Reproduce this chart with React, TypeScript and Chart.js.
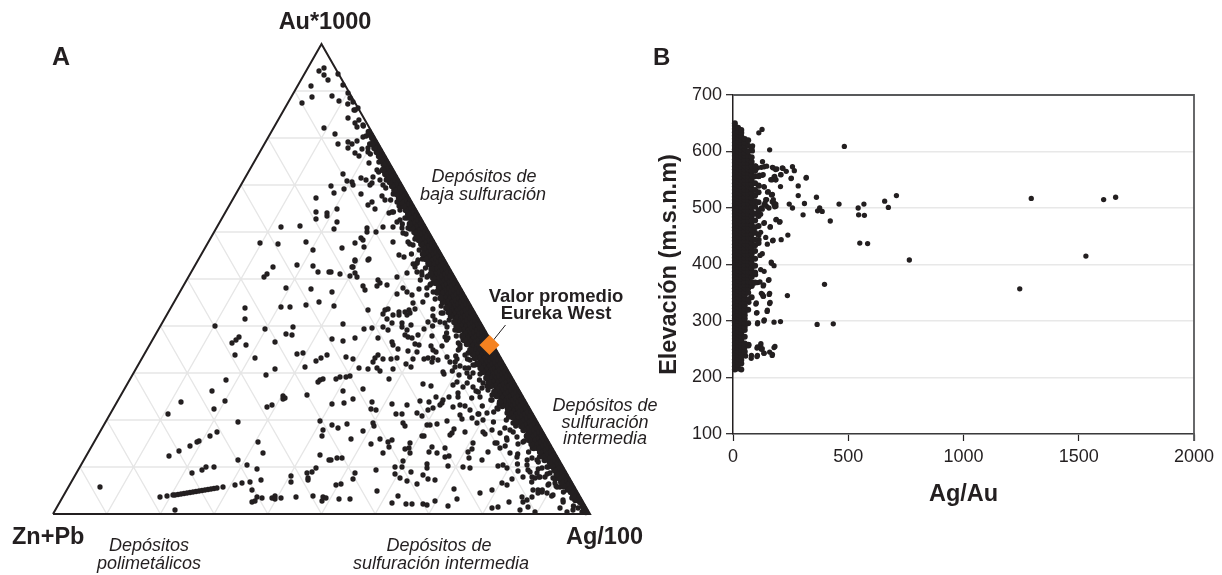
import React, { useEffect, useRef } from "react";
import { Chart, registerables } from "chart.js";

Chart.register(...registerables);

const INK = "#231f20";
const FONT = '"Liberation Sans", Arial, sans-serif';

// ---- Panel A: ternary plot. Plot units: base 537 wide, height 470 tall.
const gridSteps = [10, 20, 30, 40, 50, 60, 70, 80, 90];
const meanPoint = [436.5, 169];

const scatteredA: number[][] = [
[220,247],[214,240],[211,237],[244,249],[260,248],[265,242],[276,242],[233,226],[258,225],[266,212],[253,209],[228,207],[237,207],[192,206],[192,195],[162,188],[212,185],[240,187],[233,180],[239,179],[186,177],[183,174],[179,171],[193,169],[222,172],[182,159],[202,156],[244,160],[250,161],[274,159],[268,156],[263,153],[252,147],[222,145],[213,139],[173,134],[159,123],[270,135],[267,134],[265,132],[254,119],[230,118],[232,116],[230,115],[219,109],[214,107],[128,112],[115,100],[172,113],[161,105],[185,92],[267,93],[270,84],[269,78],[164,82],[157,78],[146,73],[144,72],[137,68],[126,63],[116,58],[205,72],[210,61],[267,59],[276,54],[185,54],[194,49],[204,45],[161,47],[153,47],[149,44],[139,41],[263,46],[259,42],[254,41],[255,36],[255,34],[238,38],[238,32],[208,34],[197,32],[189,31],[182,29],[170,27],[47,27],[199,24],[199,12],[202,13],[204,17],[209,16],[219,16],[222,18],[222,15],[228,16],[243,17],[260,18],[269,13],[270,17],[273,16],[122,4],[107,17],[114,18],
[120,19],[122,19],[125,19.5],[128,20],[131,20.5],[134,21],[137,21.5],[140,22],[143,22.5],[146,23],[149,23.5],[152,24],[155,24.5],[158,25],[161,25.5],[164,26],
[278,242],[287,240],[297,238],[302,241],[304,237],[299,247],[302,253],[315,254],[344,237],[354,241],[325,234],[327,231],[324,228],[334,229],[310,228],[312,224],[279,222],[281,208],[344,220],[350,226],[354,222],[359,219],[366,225],[377,229],[384,221],[380,231],[315,204],[332,204],[330,200],[335,205],[340,199],[346,199],[346,202],[352,202],[356,204],[360,211],[362,205],[354,199],[357,201],[334,195],[339,191],[349,191],[349,187],[358,189],[375,192],[382,194],[387,192],[290,190],[311,185],[319,186],[330,187],[335,184],[279,175],[290,173],[302,176],[325,176],[354,184],[352,179],[355,177],[359,176],[365,179],[371,185],[379,178],[339,172],[340,169],[362,170],[366,169],[345,165],[355,163],[364,162],[378,168],[380,164],[383,162],[293,157],[300,155],[325,159],[322,156],[320,152],[330,155],[338,155],[344,156],[360,155],[371,155],[375,156],[380,156],[385,154],[394,157],[404,155],[397,152],[306,146],[315,145],[324,146],[327,143],[340,145],[353,150],[358,147],[379,152],[402,147],[407,148],[412,146],[390,142],[391,140],[406,139],[420,141],[414,141],[297,138],[293,137],[287,137],[283,135],[336,135],[404,132],[400,129],[370,130],[378,128],[410,127],[420,127],[423,123],[310,125],[290,123],[405,121],[405,117],[396,117],[383,117],[390,114],[389,111],[376,112],[367,113],[427,117],[300,115],[279,110],[291,111],[319,112],[339,110],[354,109],[318,105],[323,104],[380,106],[375,104],[387,109],[400,107],[407,109],[412,108],[417,104],[343,100],[349,100],[364,101],[369,98],[394,93],[409,95],[407,99],[425,100],[419,96],[424,91],[430,94],[434,101],[279,89],[285,86],[294,90],[320,91],[321,88],[350,91],[352,88],[374,89],[377,89],[384,90],[310,83],[298,75],[327,75],[318,70],[401,85],[399,81],[397,79],[412,82],[369,78],[371,78],[430,82],[432,80],[442,71],[444,71],[339,74],[335,72],[336,67],[330,61],[352,65],[357,71],[356,66],[357,61],[379,67],[376,62],[384,61],[392,66],[392,57],[396,58],[420,71],[419,65],[415,62],[435,62],[416,56],[429,54],[278,54],[284,56],[289,56],[350,53],[349,47],[342,47],[374,50],[374,46],[395,48],[410,47],[417,46],[445,48],[450,49],[454,46],[465,43],[302,41],[300,35],[323,44],[342,40],[347,36],[358,42],[354,33],[364,30],[370,39],[375,35],[382,34],[283,29],[288,30],[324,23],[401,25],[427,21],[439,24],[449,31],[454,29],[459,35],[470,37],[479,37],[482,36],[286,15],[297,15],[345,18],[339,11],[353,10],[359,10],[370,10],[374,9],[382,13],[395,8],[404,15],[439,6],[445,7],[456,12],[467,4],[469,17],[475,7],[470,12],[479,17],[482,2],
[485,24],[489,22],[494,21],[500,19],[510,14],[507,6],[514,2],[520,4],[525,6],[529,2],[522,14],[495,29],[504,27],[500,36],[492,37],[487,37],[475,44],[489,46],[484,54],[479,56],[474,49],[464,57],[457,61],[447,66],[490,62],[500,47],[507,37],[514,24],[524,17],[502,31],[507,27],[494,47],[497,41],[484,41],[480,24],[485,21],[474,14],
[271,446],[266,443],[271,439],[275,434],[285,440],[290,429],[258,428],[259,417],[249,411],[279,418],[286,413],[295,421],[297,416],[300,412],[301,404],[305,406],[295,396],[302,391],[304,387],[310,389],[271,386],[282,380],[285,370],[295,372],[299,370],[295,366],[304,373],[310,377],[309,365],[315,366],[315,362],[302,361],[306,358],[316,351],[290,340],[294,333],[299,332],[300,329],[308,336],[313,334],[278,328],[291,325],[281,321],[308,320],[263,316],[317,329],[320,337],[324,344],[327,334],[330,329],[319,331],[319,312],[315,309],[322,305],[329,318],[332,314],[263,302],[274,301],[274,298],[284,305],[263,295],[284,292],[281,285],[228,287],[247,288],[207,271],[225,270],[253,272],[260,264],[289,266],[302,271],[308,276],[310,274],[311,267],[314,286],[314,282],[323,282],[330,287],[339,302],[336,301],[340,272],[346,259],[351,257],[302,254],[316,255],[300,247],
[340,287],[344,292],[347,294],[349,286],[350,281],[355,272],[360,269],[355,286],[364,281],[354,296],[344,312],[347,304],[364,251],[374,256],[365,254],[370,266],[377,252],[362,247],[364,242],[369,239],[374,237],[379,244],[375,251],[364,251],[382,239],
[407,166],[412,159],[417,154],[424,151],[429,144],[434,137],[430,131],[435,124],[439,114],[444,106],[450,111],[454,101],[460,91],[457,84],[464,77],[470,72],[477,77],[484,71],[454,74],[447,81],[494,57],[500,54],[395,176],[392,177],[404,184],[410,189],[394,187],[407,194],[390,201],[400,209],[394,211],[389,217],[404,201],[410,174],[407,169],[420,167],[414,171],[429,154],[420,149],[440,137]
];

// Dense band along the Ag-Au side: heights above the base, per inset from that side.
const bandInsets = [3, 6.5, 10.5, 14.5, 18.5, 22, 26];
const bandHeights: number[][] = [
[2,5,8,12,15,18,21,25,28,31,34,38,41,44,47,51,54,57,60,64,67,70,73,77,80,83,86,90,93,96,99,103,106,109,112,116,119,122,125,129,132,135,138,142,145,148,151,155,158,161,164,168,171,174,177,181,184,187,190,194,197,200,203,207,210,213,216,220,223,226,229,233,236,239,242,246,249,252,255,259,262,265,268,272,275,278,281,285,288,291,294,298,301,304,307,311,314,317,320,324,327,330,333,337,340,343,346,350,353,356,359,363,366,369,372,376,379,382],
[14,18,22,26,30,34,38,42,46,50,54,58,62,66,70,74,78,82,86,90,94,98,102,106,110,114,118,122,126,130,134,138,142,146,150,154,158,162,166,170,174,178,182,186,190,194,198,202,206,210,214,218,222,226,230,234,238,242,246,250,254,258,262,266,270,274,278,282,286,290,294,298,302,306,310,314,318,322,326,330,334,338,342,346,350,354,358,362,366,370],
[28,32,36,40,44,48,52,56,60,64,68,72,76,80,84,88,92,96,100,104,108,112,116,120,124,128,132,136,140,144,148,152,156,160,164,168,172,176,180,184,188,192,196,200,204,208,212,216,220,224,228,232,236,240,244,248,252,256,260,264,268,272,276,280,284,288,292,296,300,304,308,312,316,320,324,328,332,336,340,344],
[54,58,62,66,70,74,78,82,86,90,94,98,102,106,110,114,118,122,126,130,134,138,142,146,150,154,158,162,166,170,174,178,182,186,190,194,198,202,206,210,214,218,222,226,230,234,238,242,246,250,254,258,262,266,270,274,278,282,286,290],
[66,70,74,78,84,88,92,96,100,104,108,112,116,120,124,128,132,136,140,144,148,152,156,160,164,168,172,176,180,184,188,192,196,200,204,208,212,216,220,224,228,232,236,240,245,250,255,260],
[92,97,101,105,109,113,117,121,125,129,133,137,141,145,149,153,157,161,165,169,173,177,181,185,189,193,197,201,205,209,213,217,221,226,231,236,240],
[108,112,118,122,128,132,136,142,146,150,156,160,164,170,174,178,184,188,192,198,202,206,212,216,222]
];

// Loose points just inside the band: [height above the base, inset from the Ag-Au side].
const nearBand: number[][] = [
[8,12],[12,20],[16,9],[18,28],[22,14],[24,34],[28,18],[30,24],[32,40],[35,15],[37,30],[40,20],[42,36],[45,26],[47,15],[50,44],[52,22],[54,32],[57,18],[60,38],[62,26],[66,20],[68,46],[70,32],[73,24],[76,40],[78,19],[82,30],[84,50],[86,36],[88,24],[92,44],[94,30],[97,26],[100,54],[102,38],[105,32],[108,46],[110,28],[114,34],[116,52],[119,30],[122,42],[126,36],[128,30],[131,48],[134,34],[137,42],[140,30],[143,56],[146,38],[149,30],[152,48],[155,34],[158,44],[161,30],[164,38],[168,52],[171,34],[174,44],[178,32],[181,40],[184,30],[188,50],[191,36],[194,30],[198,44],[201,34],[205,40],[208,30],[212,46],[215,32],[219,38],[222,30],[226,34],[230,28],[234,36],[238,26],[242,30],[246,24],[250,34],[255,22],[260,30],[264,20],[270,26],[275,18],[280,24],[285,17],[290,22],[296,16],[302,24],[308,15],[314,20],[320,14],[326,18],[334,13],[342,16],[352,10],[360,14],[370,9],[378,8],[388,5],[394,6],[404,4],[410,8]
];

// ---- Panel B: Ag/Au against elevation.
const xTicksB = [0, 500, 1000, 1500, 2000];
const yTicksB = [100, 200, 300, 400, 500, 600, 700];

const columnAgAu = [8, 22, 36, 51, 66, 81, 96, 111];
const columnElevation: number[][] = [
[214,220,226,232,238,244,250,256,262,268,274,280,286,292,298,304,310,316,322,328,334,340,346,352,358,364,370,376,382,388,394,400,406,412,418,424,430,436,442,448,454,460,466,472,478,484,490,496,502,508,514,520,526,532,538,544,550,556,562,568,574,580,586,592,598,604,610,616,622,628,634,640,645,650],
[216,222,228,234,240,246,252,258,264,270,276,282,288,294,300,306,312,318,324,330,336,342,348,354,360,366,372,378,384,390,396,402,408,414,420,426,432,438,444,450,456,462,468,474,480,486,492,498,504,510,516,522,528,534,540,546,552,558,564,570,576,582,588,594,600,606,612,618,624,630,636,642],
[214,225,231,237,243,249,255,261,267,273,279,285,291,297,303,309,315,321,327,333,339,345,351,357,363,369,375,381,387,393,399,405,411,417,423,429,435,441,447,453,459,465,471,477,483,489,495,501,507,513,519,525,531,537,543,549,555,561,567,573,579,585,591,597,603,609,615,621,627,633,638],
[246,254,260,272,284,290,296,304,310,316,322,328,334,340,346,352,358,364,370,376,382,388,394,400,406,412,418,424,430,436,442,448,454,460,466,472,478,484,490,496,502,508,514,520,526,532,538,544,550,556,562,568,574,580,586,592,598,604,610,616,622],
[258,296,320,338,350,358,364,370,376,382,388,394,400,406,412,418,424,430,436,442,448,454,460,466,472,478,484,490,496,502,508,514,520,526,532,538,544,550,556,562,568,574,580,586,592,600,610,620],
[342,362,368,378,386,394,402,410,418,424,430,438,446,454,462,470,478,486,494,502,510,518,526,534,542,550,558,566,574,582,590,606],
[368,386,398,410,424,434,444,456,466,478,490,502,512,522,532,544,556,566,574],
[438,452,468,486,496,510,528,540,556]
];

const scatteredB: number[][] = [
[483,609],[709,522],[1294,517],[1608,515],[1660,519],[658,512],[674,501],[568,507],[543,500],[545,488],[570,487],[460,507],[422,477],[362,519],[376,500],[367,495],[387,494],[304,488],[310,508],[258,500],[244,507],[283,522],[317,553],[283,539],[258,573],[266,566],[252,552],[231,565],[214,571],[208,559],[206,538],[550,438],[584,437],[765,408],[1531,415],[1244,357],[397,365],[236,345],[365,294],[435,295],[206,299],[178,298],[134,300],[106,295],[102,314],[148,317],[159,331],[99,330],[157,347],[128,347],[131,344],[238,452],[209,444],[172,442],[202,475],[186,479],[161,466],[134,473],[167,402],[178,398],[154,372],[131,362],[107,368],[83,364],[178,253],[170,239],[134,243],[120,257],[104,252],[104,237],[79,234],[123,250],[68,256],[55,238],[126,639],[112,633],[159,603],[128,582],[99,574],[123,572],[146,574],[175,571],[190,569],[170,550],[186,550],[181,556],[115,558],[131,559],[134,538],[150,528],[167,523],[146,515],[170,511],[186,503],[178,509],[146,503],[123,500],[186,507],[139,509],
[84,601],[85,610],[171,572],[185,568],[217,570],[207,559],[253,553],[318,554],[135,573],[106,571],[84,568],[127,558],[113,556],[178,555],[164,550],[185,550],[136,537],[113,539],[153,529],[171,524],[142,515],[175,515],[178,506],[135,506],[127,498],[156,500],[181,502],[120,489],[136,474],[188,480],[204,476],[162,467],[120,457],[142,448],[174,443],[113,444],[149,436],[127,419],[117,416],[166,404],
[120,391],[135,388],[98,382],[84,367],[98,368],[117,369],[133,364],[156,373],[123,349],[132,344],[159,349],[77,341],[101,332],[161,333],[69,333],[104,315],[149,319],[55,320],[136,302],[107,297],[69,258],[121,260],[182,255],[106,254],[127,251],[80,239],[106,239],[135,243],[159,245],[171,241],[51,242]
];

type Label = { text: string; x: number; base: number; size: number; bold?: boolean; italic?: boolean; align?: "left" | "center" };
const labels: Label[] = [
  { text: "Au*1000", x: 325, base: 30, size: 23.5, bold: true, align: "center" },
  { text: "A", x: 52, base: 65, size: 25, bold: true },
  { text: "B", x: 653, base: 65, size: 24, bold: true },
  { text: "Zn+Pb", x: 12, base: 545, size: 23.5, bold: true },
  { text: "Ag/100", x: 566, base: 545, size: 23.5, bold: true },
  { text: "Depósitos", x: 149, base: 551, size: 18, italic: true, align: "center" },
  { text: "polimetálicos", x: 149, base: 569, size: 18, italic: true, align: "center" },
  { text: "Depósitos de", x: 439, base: 551, size: 18, italic: true, align: "center" },
  { text: "sulfuración intermedia", x: 441, base: 569, size: 18, italic: true, align: "center" },
  { text: "Depósitos de", x: 484, base: 182.5, size: 18, italic: true, align: "center" },
  { text: "baja sulfuración", x: 483, base: 200, size: 18, italic: true, align: "center" },
  { text: "Depósitos de", x: 605, base: 411.5, size: 18, italic: true, align: "center" },
  { text: "sulfuración", x: 605, base: 428, size: 18, italic: true, align: "center" },
  { text: "intermedia", x: 605, base: 444, size: 18, italic: true, align: "center" },
  { text: "Valor promedio", x: 556, base: 303, size: 18.5, bold: true, align: "center" },
  { text: "Eureka West", x: 556, base: 319.5, size: 18.5, bold: true, align: "center" },
];

// Ternary percentages (Au, Ag) to plot units.
const BASE = 537;
const HEIGHT = 470;
const ternary = (au: number, ag: number) => ({ x: (BASE * (ag + au / 2)) / 100, y: (HEIGHT * au) / 100 });
const bandPoint = (h: number, inset: number) => ({ x: BASE - (h * BASE) / (2 * HEIGHT) - inset, y: h });

function gridSegments() {
  const pts: { x: number; y: number }[] = [];
  const gap = { x: NaN, y: NaN };
  gridSteps.forEach((t) => {
    pts.push(ternary(t, 0), ternary(t, 100 - t), gap);
    pts.push(ternary(0, t), ternary(100 - t, t), gap);
    pts.push(ternary(0, 100 - t), ternary(100 - t, 0), gap);
  });
  return pts;
}

const dot = { showLine: false, pointRadius: 2.65, pointBorderWidth: 0, pointBackgroundColor: INK, pointHoverRadius: 2.65, clip: false };
const denseDot = { ...dot, pointRadius: 3.2, pointHoverRadius: 3.2 };

export default function App() {
  const aRef = useRef<HTMLCanvasElement>(null);
  const bRef = useRef<HTMLCanvasElement>(null);

  useEffect(() => {
    const loosePoints = [
      ...scatteredA.map(([x, y]) => ({ x, y })),
      ...nearBand.map(([h, inset]) => bandPoint(h, inset)),
    ];
    const bandPoints = bandHeights.flatMap((hs, i) => hs.map((h) => bandPoint(h, bandInsets[i])));
    const chartA = new Chart(aRef.current!, {
      type: "scatter",
      data: {
        datasets: [
          {
            data: [{ x: meanPoint[0], y: meanPoint[1] }],
            showLine: false,
            pointStyle: "rectRot",
            pointRadius: 10,
            pointBackgroundColor: "#f58220",
            pointBorderWidth: 0,
            clip: false,
          },
          {
            data: [{ x: meanPoint[0], y: meanPoint[1] }, { x: 452.5, y: 189 }],
            showLine: true,
            borderColor: INK,
            borderWidth: 1,
            pointRadius: 0,
            clip: false,
          },
          { data: bandPoints, ...denseDot },
          { data: loosePoints, ...dot },
          {
            data: [ternary(0, 0), ternary(100, 0), ternary(0, 100), ternary(0, 0)],
            showLine: true,
            borderColor: INK,
            borderWidth: 2,
            pointRadius: 0,
            clip: false,
          },
          {
            data: gridSegments(),
            showLine: true,
            spanGaps: false,
            borderColor: "#e6e6e6",
            borderWidth: 1.4,
            pointRadius: 0,
            clip: false,
          },
        ],
      } as any,
      options: {
        animation: false,
        responsive: false,
        events: [],
        layout: { padding: { left: 53, right: 50, top: 44, bottom: 61 } },
        plugins: { legend: { display: false }, tooltip: { enabled: false } },
        scales: {
          x: { type: "linear", display: false, min: 0, max: BASE },
          y: { type: "linear", display: false, min: 0, max: HEIGHT },
        },
      },
    });

    const frame = {
      id: "frame",
      afterDatasetsDraw(c: any) {
        const { ctx, chartArea: a } = c;
        ctx.save();
        ctx.strokeStyle = "#58595b";
        ctx.lineWidth = 1.8;
        ctx.beginPath();
        ctx.moveTo(a.left, a.top);
        ctx.lineTo(a.right, a.top);
        ctx.lineTo(a.right, a.bottom + 7);
        ctx.stroke();
        ctx.restore();
      },
    };

    const columnPoints = columnElevation.flatMap((ys, i) => ys.map((y) => ({ x: columnAgAu[i], y })));
    const loosePointsB = scatteredB.map(([x, y]) => ({ x, y }));
    const tickFont = { family: FONT, size: 18 };
    const titleFont = { family: FONT, size: 23.5, weight: "bold" as const };
    const chartB = new Chart(bRef.current!, {
      type: "scatter",
      data: { datasets: [{ data: columnPoints, ...denseDot, pointRadius: 3 }, { data: loosePointsB, ...dot }] } as any,
      plugins: [frame],
      options: {
        animation: false,
        responsive: false,
        events: [],
        layout: { padding: { left: 15, right: 28, top: 95, bottom: 66 } },
        plugins: { legend: { display: false }, tooltip: { enabled: false } },
        scales: {
          x: {
            type: "linear",
            min: xTicksB[0],
            max: xTicksB[xTicksB.length - 1],
            afterBuildTicks: (s: any) => { s.ticks = xTicksB.map((value) => ({ value })); },
            afterFit: (s: any) => { s.height = 75; s.paddingLeft = 0; s.paddingRight = 0; },
            ticks: { color: INK, font: tickFont, padding: 5, maxRotation: 0, autoSkip: false, callback: (v: any) => String(v) },
            grid: { drawOnChartArea: false, tickLength: 7, tickColor: INK, tickWidth: 1.2 },
            border: { color: "#3a3a3c", width: 1.5 },
            title: { display: true, text: "Ag/Au", color: INK, font: titleFont, padding: 0 },
          },
          y: {
            type: "linear",
            min: yTicksB[0],
            max: yTicksB[yTicksB.length - 1],
            afterBuildTicks: (s: any) => { s.ticks = yTicksB.map((value) => ({ value })); },
            afterFit: (s: any) => { s.width = 78; s.paddingTop = 0; s.paddingBottom = 0; },
            ticks: { color: INK, font: tickFont, padding: 4, autoSkip: false, callback: (v: any) => String(v) },
            grid: { color: "#e8e8e8", lineWidth: 1.4, tickLength: 7, tickColor: INK, tickWidth: 1.2 },
            border: { color: INK, width: 1.5 },
            title: { display: true, text: "Elevación (m.s.n.m)", color: INK, font: titleFont, padding: 0 },
          },
        },
      },
    });

    return () => {
      chartA.destroy();
      chartB.destroy();
    };
  }, []);

  return (
    <div style={{ position: "absolute", left: 0, top: 0, width: 1222, height: 575, overflow: "hidden", background: "#fff" }}>
      <canvas ref={aRef} width={640} height={575} style={{ position: "absolute", left: 0, top: 0, width: 640, height: 575 }} />
      <canvas ref={bRef} width={582} height={575} style={{ position: "absolute", left: 640, top: 0, width: 582, height: 575 }} />
      {labels.map((l, i) => (
        <div
          key={i}
          style={{
            position: "absolute",
            left: l.x,
            top: l.base - 0.8465 * l.size,
            transform: l.align === "center" ? "translateX(-50%)" : undefined,
            fontFamily: FONT,
            fontSize: l.size,
            lineHeight: 1,
            fontStyle: l.italic ? "italic" : "normal",
            fontWeight: l.bold ? 700 : 400,
            color: INK,
            whiteSpace: "nowrap",
          }}
        >
          {l.text}
        </div>
      ))}
    </div>
  );
}
